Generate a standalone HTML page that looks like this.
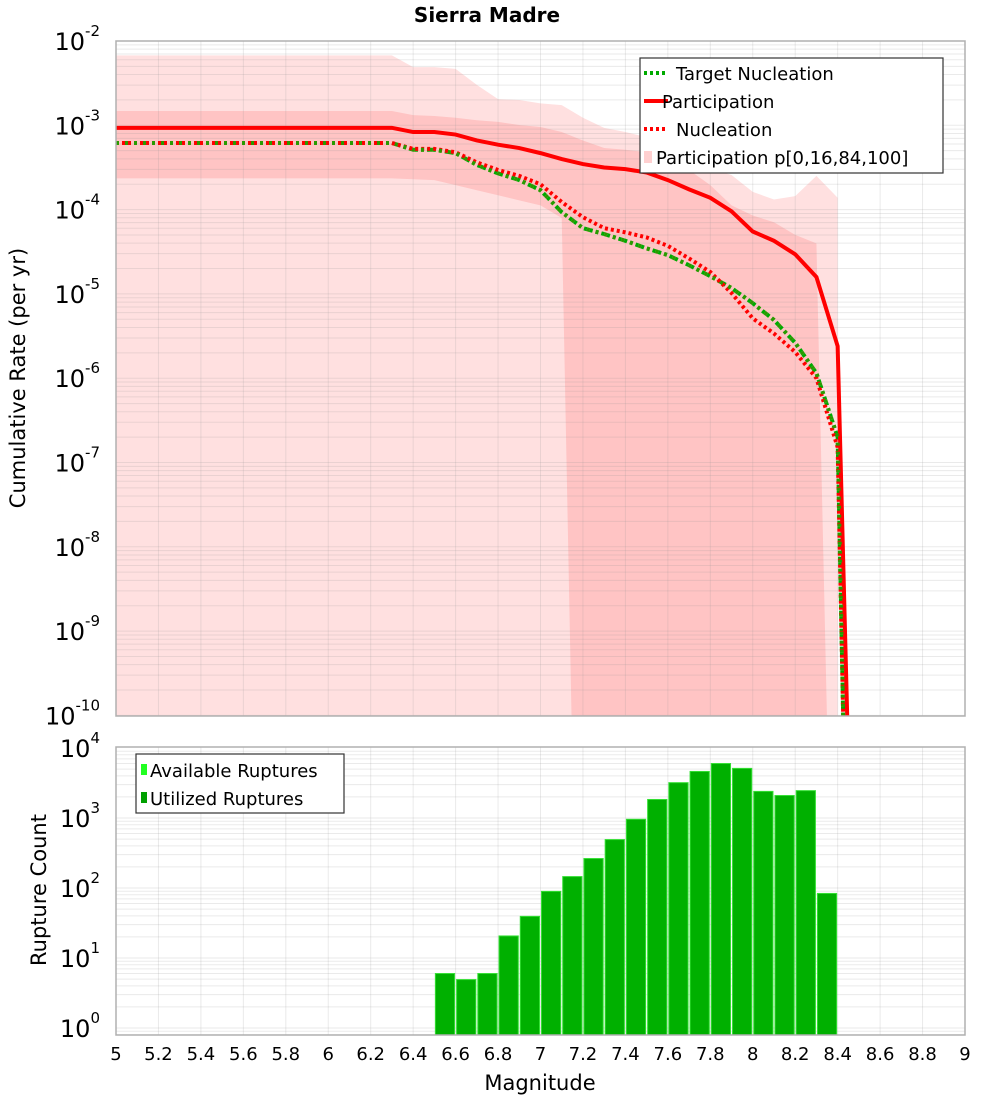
<!DOCTYPE html>
<html><head><meta charset="utf-8"><style>
body{margin:0;background:#fff;}
svg text{font-family:"DejaVu Sans","Liberation Sans",sans-serif;}
</style></head><body>
<svg id="chart" width="1000" height="1100" viewBox="0 0 1000 1100" xmlns="http://www.w3.org/2000/svg">
<text x="487" y="22" font-size="20" font-weight="bold" text-anchor="middle">Sierra Madre</text>
<g id="topG"></g>
<g id="botG"></g>
<text transform="translate(25,378) rotate(-90)" font-size="21" text-anchor="middle">Cumulative Rate (per yr)</text>
<text transform="translate(46,890) rotate(-90)" font-size="21" text-anchor="middle">Rupture Count</text>
<text x="540" y="1090" font-size="21" text-anchor="middle">Magnitude</text>
</svg>
<script>
// ---- data ----
const partMags = [5.0,6.3,6.4,6.5,6.6,6.7,6.8,6.9,7.0,7.1,7.2,7.3,7.4,7.5,7.6,7.7,7.8,7.9,8.0,8.1,8.2,8.3,8.4,8.45];
const partLog = [-3.03,-3.03,-3.08,-3.08,-3.11,-3.18,-3.23,-3.27,-3.33,-3.40,-3.46,-3.50,-3.52,-3.56,-3.65,-3.76,-3.86,-4.02,-4.26,-4.37,-4.53,-4.80,-5.62,-10.5];
const nuclMags = [5.0,6.3,6.4,6.5,6.6,6.7,6.8,6.9,7.0,7.1,7.2,7.3,7.4,7.5,7.6,7.7,7.8,7.9,8.0,8.1,8.2,8.3,8.4,8.43];
const nuclLog = [-3.21,-3.21,-3.28,-3.28,-3.32,-3.44,-3.53,-3.60,-3.70,-3.91,-4.09,-4.22,-4.27,-4.33,-4.43,-4.58,-4.74,-4.99,-5.29,-5.47,-5.69,-6.00,-6.82,-10.5];
const targLog = [-3.21,-3.21,-3.29,-3.29,-3.33,-3.47,-3.57,-3.65,-3.77,-4.03,-4.22,-4.29,-4.37,-4.46,-4.54,-4.66,-4.79,-4.93,-5.11,-5.31,-5.58,-5.94,-6.70,-10.5];
const outerMags = [5.0,6.3,6.4,6.5,6.6,6.7,6.8,6.9,7.0,7.1,7.2,7.3,7.4,7.5,7.6,7.7,7.8,7.9,8.0,8.1,8.2,8.3,8.4];
const outerTopLog = [-2.17,-2.17,-2.31,-2.31,-2.33,-2.52,-2.69,-2.70,-2.74,-2.76,-2.91,-3.03,-3.08,-3.14,-3.17,-3.27,-3.51,-3.59,-3.79,-3.88,-3.84,-3.60,-3.86];
const innerMags = [5.0,6.3,6.4,6.5,6.6,6.7,6.8,6.9,7.0,7.1,7.2,7.3,7.4,7.5,7.6,7.7,7.8,7.9,8.0,8.1,8.2,8.3];
const innerTopLog = [-2.83,-2.83,-2.88,-2.89,-2.91,-2.94,-2.96,-2.997,-3.02,-3.08,-3.18,-3.27,-3.29,-3.32,-3.41,-3.53,-3.71,-3.95,-4.07,-4.15,-4.30,-4.40];
const innerBotMags = [5.0,6.3,6.5,6.6,6.7,6.8,6.9,7.0,7.1,7.15];
const innerBotLog = [-3.63,-3.63,-3.65,-3.71,-3.77,-3.83,-3.89,-3.95,-4.10,-10.5];
const barMags = [6.55,6.65,6.75,6.85,6.95,7.05,7.15,7.25,7.35,7.45,7.55,7.65,7.75,7.85,7.95,8.05,8.15,8.25,8.35];
const barCounts = [6.1,5.0,6.1,21,40,91,148,268,500,975,1870,3250,4700,6100,5200,2440,2130,2500,85];
const xTicks = ["5","5.2","5.4","5.6","5.8","6","6.2","6.4","6.6","6.8","7","7.2","7.4","7.6","7.8","8","8.2","8.4","8.6","8.8","9"];
const topYTicks = [-2,-3,-4,-5,-6,-7,-8,-9,-10];
const botYTicks = [0,1,2,3,4];

// ---- scales ----
const L=116,R=965;
const x = m => L + (m-5)*(R-L)/4;
const TT=41,TB=716;
const yT = lg => TT + (-2-lg)*84.3;
const BT=747,BB=1035;
const yB = lg => 1028 - lg*70;
const NS='http://www.w3.org/2000/svg';
function mk(parent,tag,attrs){const e=document.createElementNS(NS,tag);for(const k in attrs)e.setAttribute(k,attrs[k]);parent.appendChild(e);return e;}
const topG=document.getElementById('topG'), botG=document.getElementById('botG');

const defs=mk(document.getElementById('chart'),'defs',{});
const c1=mk(defs,'clipPath',{id:'ct'});mk(c1,'rect',{x:L,y:TT,width:R-L,height:TB-TT});
const c2=mk(defs,'clipPath',{id:'cb'});mk(c2,'rect',{x:L,y:BT,width:R-L,height:BB-BT});

const tg=mk(topG,'g',{'clip-path':'url(#ct)'});
let d='M'+x(5)+','+TB;
outerMags.forEach((m,i)=>{d+=' L'+x(m)+','+yT(outerTopLog[i]);});
d+=' L'+x(8.4)+','+(TB+5)+' Z';
let p=mk(tg,'path',{d:d,fill:'#ffe0e0'});


d='M'+x(innerMags[0])+','+yT(innerTopLog[0]);
innerMags.forEach((m,i)=>{d+=' L'+x(m)+','+yT(innerTopLog[i]);});
d+=' L'+x(8.35)+','+(TB+5);
for(let i=innerBotMags.length-1;i>=0;i--){d+=' L'+x(innerBotMags[i])+','+yT(innerBotLog[i]);}
d+=' Z';
p=mk(tg,'path',{d:d,fill:'#ffc4c4'});



function grid(g,yf,lo,hi,y0,y1){
  for(let i=1;i<20;i++){const xx=x(5+i*0.2);mk(g,'line',{x1:xx,x2:xx,y1:y0,y2:y1,stroke:'rgba(150,150,150,0.2)','stroke-width':1});}
  for(let dd=lo;dd<hi;dd++){for(let k=1;k<10;k++){const yy=yf(dd+Math.log10(k));if(yy>y0&&yy<y1)mk(g,'line',{x1:L,x2:R,y1:yy,y2:yy,stroke:'rgba(150,150,150,0.2)','stroke-width':1});}}
}
grid(tg,yT,-11,-2,TT,TB);

function line(g,mags,logs,color,dash,w,name){
  let dd='';mags.forEach((m,i)=>{dd+=(i?' L':'M')+x(m)+','+yT(logs[i]);});
  const e=mk(g,'path',{d:dd,fill:'none',stroke:color,'stroke-width':w});
  if(dash)e.setAttribute('stroke-dasharray',dash);
  
  
}
line(tg,nuclMags,targLog,'#00aa00','3,3',4,'target-nucleation-line');
line(tg,partMags,partLog,'#ff0000','',4,'participation-line');
line(tg,nuclMags,nuclLog,'#ff0000','3,3',4,'nucleation-line');
line(tg,nuclMags,targLog,'#2a9a00','3,6',4,'target-nucleation-overlay');

mk(topG,'rect',{x:L,y:TT,width:R-L,height:TB-TT,fill:'none',stroke:'#b0b0b0','stroke-width':1.5});

const bg=mk(botG,'g',{'clip-path':'url(#cb)'});
grid(bg,yB,-1,4,BT,BB);
barMags.forEach((m,i)=>{
  const y=yB(Math.log10(barCounts[i]));
  const r=mk(bg,'rect',{x:x(m-0.05)+0.5,y:y,width:x(m+0.05)-x(m-0.05)-1,height:BB-y,fill:'#33e033'});
  
  
  const r2=mk(bg,'rect',{x:x(m-0.05)+1.5,y:y+1,width:x(m+0.05)-x(m-0.05)-3,height:BB-y-1,fill:'#00b000'});
  
  
});
mk(botG,'rect',{x:L,y:BT,width:R-L,height:BB-BT,fill:'none',stroke:'#b0b0b0','stroke-width':1.5});

xTicks.forEach((t,i)=>{const e=mk(botG,'text',{x:x(5+i*0.2),y:1060,'font-size':18,'text-anchor':'middle'});e.textContent=t;
  });
function ylab(g,yy,ex){const e=mk(g,'text',{x:100,y:yy+9,'font-size':24,'text-anchor':'end'});
  
  const a=mk(e,'tspan',{});a.textContent='10';const b=mk(e,'tspan',{dy:-14,'font-size':15});b.textContent=ex;}
topYTicks.forEach(t=>ylab(topG,yT(t),String(t)));
botYTicks.forEach(t=>ylab(botG,yB(t),String(t)));

const lg=mk(topG,'g',{});
mk(lg,'rect',{x:640,y:58,width:303,height:115,fill:'#fff',stroke:'#333','stroke-width':1.2});
const items=[['Target Nucleation','#00aa00','3,3',676],['Participation','#ff0000','',662],['Nucleation','#ff0000','3,3',676],['Participation p[0,16,84,100]','#ffd0d0','box',656]];
items.forEach((it,i)=>{const yy=73+i*28;
  if(it[2]==='box')mk(lg,'rect',{x:644,y:yy-6,width:8,height:12,fill:it[1]});
  else{const l=mk(lg,'line',{x1:644,x2:668,y1:yy,y2:yy,stroke:it[1],'stroke-width':4});if(it[2])l.setAttribute('stroke-dasharray',it[2]);}
  const t=mk(lg,'text',{x:it[3],y:yy+7,'font-size':18});t.textContent=it[0];
  });
const lg2=mk(botG,'g',{});
mk(lg2,'rect',{x:136,y:754,width:208,height:59,fill:'#fff',stroke:'#333','stroke-width':1.2});
[['Available Ruptures','#22ff22'],['Utilized Ruptures','#00a000']].forEach((it,i)=>{const yy=770+i*28;
  mk(lg2,'rect',{x:141,y:yy-6,width:6,height:11,fill:it[1]});
  const t=mk(lg2,'text',{x:150,y:yy+7,'font-size':18});t.textContent=it[0];
  });
</script>
</body></html>
